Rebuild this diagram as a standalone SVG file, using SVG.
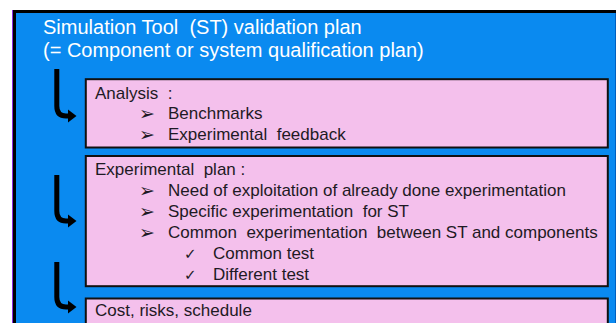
<svg xmlns="http://www.w3.org/2000/svg" width="616" height="323" viewBox="0 0 616 323">
<style>
.title{font-family:"Liberation Sans",Arial,sans-serif;font-size:20px;fill:#ffffff;white-space:pre}
.t{font-family:"Liberation Sans",Arial,sans-serif;font-size:17px;fill:#1e1a24;white-space:pre}
.b{font-family:"DejaVu Sans",sans-serif;font-size:19px;fill:#1e1a24}
.c{font-family:"DejaVu Sans",sans-serif;font-size:15px;fill:#1e1a24}
.box{fill:#f4c0ec;stroke:#111;stroke-width:2}
.arr{fill:none;stroke:#000;stroke-width:5;stroke-linejoin:round}
</style>
<rect x="0" y="0" width="616" height="323" fill="#ffffff"/>
<g id="frame">
<rect x="14.5" y="11.5" width="620" height="330" fill="#0a8af0" stroke="#000" stroke-width="3"/>
<line x1="12.5" y1="10" x2="12.5" y2="323" stroke="#8a2be2" stroke-width="1"/>
<line x1="615.5" y1="13" x2="615.5" y2="323" stroke="#0060c0" stroke-width="1"/>
<text class="title" x="43" y="34">Simulation Tool  (ST) validation plan</text>
<text class="title" x="43" y="57">(= Component or system qualification plan)</text>
</g>
<g id="connectors">
<path class="arr" d="M56.8,69 V106 Q56.8,116 66,116 H70"/>
<polygon points="68,109.5 76.5,116 68,122.5" fill="#000"/>
<path class="arr" d="M56.8,175 V211 Q56.8,221 66,221 H70"/>
<polygon points="68,214.5 76.5,221 68,227.5" fill="#000"/>
<path class="arr" d="M56.8,262 V297 Q56.8,307 66,307 H70"/>
<polygon points="68,300.5 76.5,307 68,313.5" fill="#000"/>
</g>
<g id="analysis">
<rect class="box" x="85.8" y="79.2" width="522" height="68.3"/>
<text class="t" x="95" y="98.5">Analysis  :</text>
<text class="b" x="139" y="119.5">➢</text>
<text class="t" x="168" y="119">Benchmarks</text>
<text class="b" x="139" y="140.5">➢</text>
<text class="t" x="168" y="140">Experimental  feedback</text>
</g>
<g id="experimental-plan">
<rect class="box" x="85.8" y="156" width="522" height="130.2"/>
<text class="t" x="95" y="175">Experimental  plan :</text>
<text class="b" x="139" y="196.5">➢</text>
<text class="t" x="168" y="196">Need of exploitation of already done experimentation</text>
<text class="b" x="139" y="217.5">➢</text>
<text class="t" x="168" y="217">Specific experimentation  for ST</text>
<text class="b" x="139" y="238.5">➢</text>
<text class="t" x="168" y="238">Common  experimentation  between ST and components</text>
<text class="c" x="184" y="259">✓</text>
<text class="t" x="213" y="259">Common test</text>
<text class="c" x="184" y="280">✓</text>
<text class="t" x="213" y="280">Different test</text>
</g>
<g id="cost">
<rect class="box" x="85.8" y="298.5" width="522" height="40"/>
<text class="t" x="95" y="315.5">Cost, risks, schedule</text>
</g>
</svg>
